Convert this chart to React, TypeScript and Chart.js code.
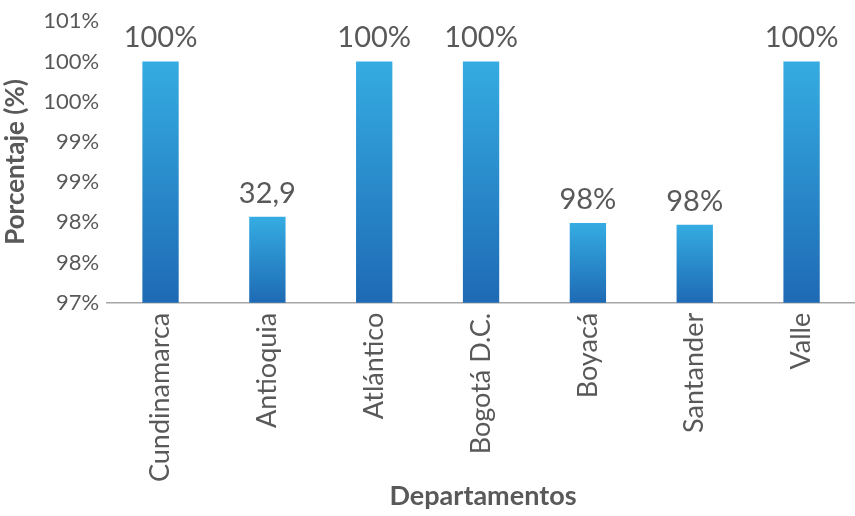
import React, { useEffect, useRef } from "react";
import { Chart, registerables } from "chart.js";

Chart.register(...registerables);

const categories = ["Cundinamarca", "Antioquia", "Atlántico", "Bogotá D.C.", "Boyacá", "Santander", "Valle"];
const values = [100, 98.07, 100, 100, 97.99, 97.97, 100];
const valueLabels = ["100%", "32,9", "100%", "100%", "98%", "98%", "100%"];
const yMin = 97;
const yMax = 100.5;
const yStep = 0.5;

const TEXT = "#595959";
const FONT = "Lato";

const dataLabelPlugin = {
  id: "dataLabels",
  afterDatasetsDraw(chart: any) {
    const ctx = chart.ctx;
    const meta = chart.getDatasetMeta(0);
    ctx.save();
    ctx.font = `400 29px ${FONT}`;
    ctx.fillStyle = TEXT;
    ctx.textAlign = "center";
    ctx.textBaseline = "bottom";
    meta.data.forEach((el: any, i: number) => {
      ctx.fillText(valueLabels[i], el.x, el.y - 9);
    });
    ctx.restore();
  },
};

const xTitlePlugin = {
  id: "xTitle",
  afterDraw(chart: any) {
    const ctx = chart.ctx;
    ctx.save();
    ctx.font = `700 27px ${FONT}`;
    ctx.fillStyle = TEXT;
    ctx.textAlign = "center";
    ctx.textBaseline = "middle";
    ctx.fillText("Departamentos", 483, 496);
    ctx.restore();
  },
};

export default function App() {
  const ref = useRef<HTMLCanvasElement | null>(null);
  useEffect(() => {
    if (!ref.current) return;
    const chart = new Chart(ref.current, {
      type: "bar",
      data: {
        labels: categories,
        datasets: [
          {
            data: values,
            categoryPercentage: 1,
            barPercentage: 0.34,
            backgroundColor: (c: any) => {
              const ch = c.chart;
              const ys = ch.scales && ch.scales.y;
              if (!ch.chartArea || !ys || c.parsed == null) return "#2A8FD3";
              const top = ys.getPixelForValue(c.parsed.y);
              const bottom = ys.getPixelForValue(yMin);
              if (!isFinite(top) || !isFinite(bottom) || top === bottom) return "#2A8FD3";
              const g = ch.ctx.createLinearGradient(0, top, 0, bottom);
              g.addColorStop(0, "#35ACE2");
              g.addColorStop(1, "#1E6AB4");
              return g;
            },
          },
        ],
      },
      options: {
        animation: false,
        responsive: false,
        maintainAspectRatio: false,
        layout: { padding: { top: 7, right: 0, bottom: 24, left: 0 } },
        plugins: { legend: { display: false }, tooltip: { enabled: false } },
        scales: {
          x: {
            grid: { display: false, drawTicks: false },
            border: { display: true, color: "#A6A6A6", width: 1.5 },
            ticks: {
              color: TEXT,
              font: { family: FONT, size: 27 },
              minRotation: 90,
              maxRotation: 90,
              padding: 10,
            },
          },
          y: {
            min: yMin,
            max: yMax,
            grid: { display: false, drawTicks: false },
            border: { display: false },
            ticks: {
              stepSize: yStep,
              color: TEXT,
              font: { family: FONT, size: 22 },
              padding: 8,
              callback: (v: any) => Math.round(Number(v)) + "%",
            },
            title: {
              display: true,
              text: "Porcentaje (%)",
              color: TEXT,
              font: { family: FONT, size: 26, weight: "bold" },
              padding: { top: 0, bottom: 4 },
            },
          },
        },
      },
      plugins: [dataLabelPlugin, xTitlePlugin],
    });
    return () => chart.destroy();
  }, []);
  return (
    <div style={{ position: "fixed", left: 0, top: 0, width: 855, height: 516, background: "#fff" }}>
      <canvas ref={ref} width={855} height={516} style={{ width: 855, height: 516 }} />
    </div>
  );
}
